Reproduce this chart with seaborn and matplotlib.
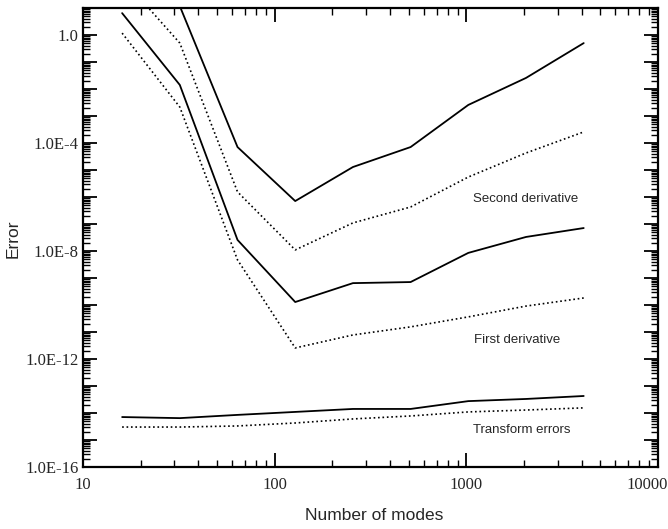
import numpy as np
import pandas as pd
import matplotlib
matplotlib.use("Agg")
import matplotlib.pyplot as plt
import matplotlib.ticker as mticker
import matplotlib.transforms as mtransforms
import seaborn as sns

# ---- data (log10 of error values) ----
modes = [16, 32, 64, 128, 256, 512, 1024, 2048, 4096]
second_solid_log = [3.0, 1.07, -4.15, -6.15, -4.89, -4.15, -2.59, -1.59, -0.30]
second_dotted_log = [2.1, -0.30, -5.81, -7.96, -6.96, -6.37, -5.26, -4.37, -3.59]
first_solid_log = [0.81, -1.85, -7.59, -9.89, -9.19, -9.15, -8.07, -7.48, -7.15]
first_dotted_log = [0.07, -2.67, -8.33, -11.59, -11.11, -10.81, -10.44, -10.04, -9.74]
transform_solid_log = [-14.15, -14.19, -14.07, -13.96, -13.85, -13.85, -13.56, -13.48, -13.37]
transform_dotted_log = [-14.52, -14.52, -14.48, -14.37, -14.22, -14.11, -13.96, -13.89, -13.81]

x_tick_values = [10, 100, 1000, 10000]
x_tick_labels = ["10", "100", "1000", "10000"]
y_label_values = [1e0, 1e-4, 1e-8, 1e-12, 1e-16]
y_tick_labels = ["1.0", "1.0E-4", "1.0E-8", "1.0E-12", "1.0E-16"]

annotations = ["Second derivative", "First derivative", "Transform errors"]

series = {
    "second_solid": (second_solid_log, "-"),
    "second_dotted": (second_dotted_log, ":"),
    "first_solid": (first_solid_log, "-"),
    "first_dotted": (first_dotted_log, ":"),
    "transform_solid": (transform_solid_log, "-"),
    "transform_dotted": (transform_dotted_log, ":"),
}

sns.set_style("ticks")
plt.rcParams["font.family"] = ["Liberation Sans", "DejaVu Sans"]

fig = plt.figure(figsize=(6.68, 5.29), dpi=100)
ax = fig.add_axes([83 / 668, 1 - 467 / 529, (658 - 83) / 668, (467 - 8) / 529])

for name, (vals, ls) in series.items():
    df = pd.DataFrame({"modes": modes, "err": np.power(10.0, vals)})
    sns.lineplot(data=df, x="modes", y="err", ax=ax, color="black",
                 linestyle=ls, linewidth=1.3 if ls == "-" else 1.2, legend=False)

ax.set_xscale("log")
ax.set_yscale("log")
ax.set_xlim(10, 10000)
ax.set_ylim(1e-16, 10)

# x ticks
ax.xaxis.set_major_locator(mticker.FixedLocator(x_tick_values))
ax.xaxis.set_major_formatter(mticker.FixedFormatter(x_tick_labels))
ax.xaxis.set_minor_locator(mticker.LogLocator(base=10, subs=np.arange(2, 10), numticks=20))
ax.xaxis.set_minor_formatter(mticker.NullFormatter())

# y ticks: every decade major, label every fourth
decades = [10.0 ** k for k in range(-16, 2)]
ax.yaxis.set_major_locator(mticker.FixedLocator(decades))
lab = {v: t for v, t in zip(y_label_values, y_tick_labels)}
def yfmt(v, pos):
    for key, t in lab.items():
        if abs(np.log10(v) - np.log10(key)) < 1e-6:
            return t
    return ""
ax.yaxis.set_major_formatter(mticker.FuncFormatter(yfmt))
ax.yaxis.set_minor_locator(mticker.LogLocator(base=10, subs=np.arange(2, 10), numticks=40))
ax.yaxis.set_minor_formatter(mticker.NullFormatter())

ax.tick_params(which="both", direction="in", top=True, right=True, color="black")
ax.tick_params(which="major", length=10, width=1.3)
ax.tick_params(which="minor", length=5, width=1.0)
ax.tick_params(axis="both", which="major", labelsize=12, pad=3)
ax.tick_params(axis="x", which="major", pad=7)

fig.canvas.draw()
xt = ax.get_xticklabels()
for lbl in xt + ax.get_yticklabels():
    lbl.set_fontfamily(["Liberation Serif", "DejaVu Serif"])
# shift last x label left so it stays inside the figure
last = xt[-1]
last.set_transform(last.get_transform() + mtransforms.ScaledTranslation(-11 / 100, 0, fig.dpi_scale_trans))

for sp in ax.spines.values():
    sp.set_linewidth(1.6)
    sp.set_color("black")

ax.set_xlabel("Number of modes", fontsize=12.5)
ax.set_ylabel("Error", fontsize=12.5)
ax.xaxis.set_label_coords(0.507, -0.09)
ax.yaxis.set_label_coords(-0.108, 0.497)

ax.text(0.769, 0.584, annotations[0], transform=ax.transAxes, ha="center", va="center", fontsize=9.5)
ax.text(0.755, 0.277, annotations[1], transform=ax.transAxes, ha="center", va="center", fontsize=9.5)
ax.text(0.763, 0.080, annotations[2], transform=ax.transAxes, ha="center", va="center", fontsize=9.5)

fig.savefig("out.png", dpi=100)
